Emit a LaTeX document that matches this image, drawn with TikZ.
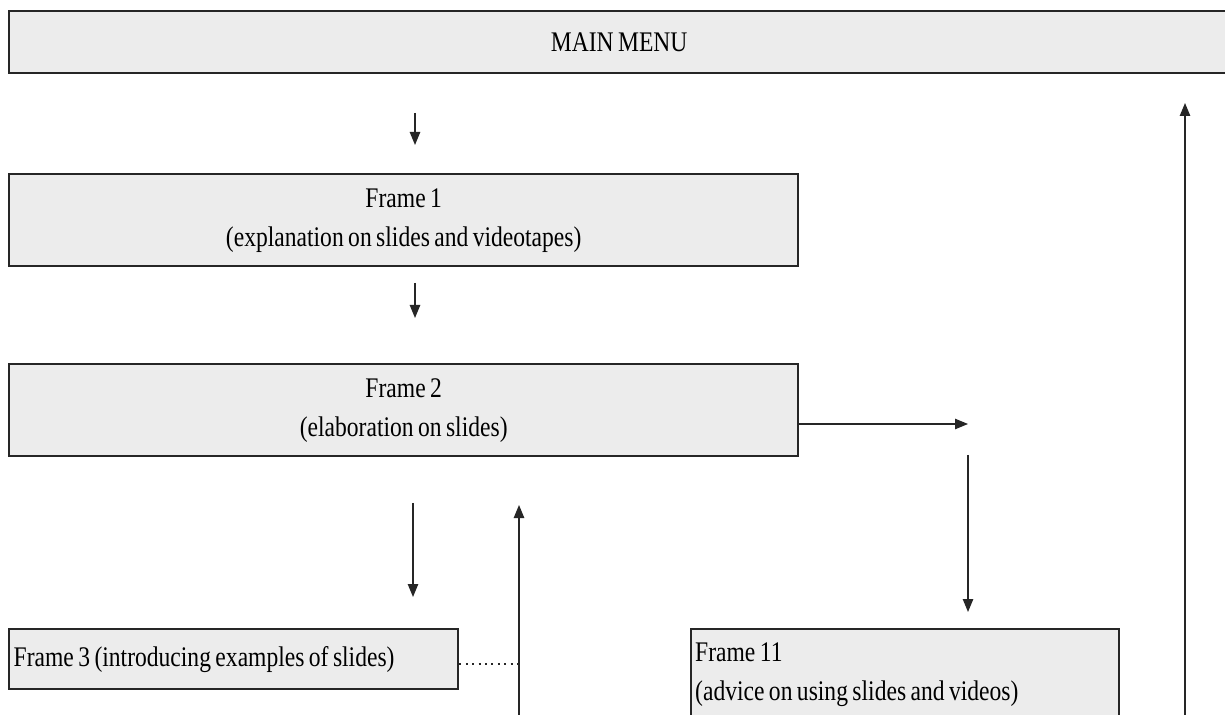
\documentclass[tikz,border=0pt]{standalone}
\usepackage{fontspec}
\setmainfont{Liberation Serif}[FakeStretch=0.83,WordSpace=0.75]
\usetikzlibrary{arrows.meta,calc}
\definecolor{boxfill}{gray}{0.925}
\definecolor{ink}{gray}{0.15}
\tikzset{
  frame/.style={draw=ink, fill=boxfill, line width=1.2pt, inner sep=2pt,
    font=\fontsize{14.2pt}{19.5pt}\selectfont},
  flow/.style={draw=ink, line width=0.65pt, -{Triangle[length=6.5pt,width=5.2pt]}},
  link/.style={draw=ink, line width=0.7pt, dash pattern=on 1pt off 2.2pt},
}
\begin{document}
\begin{tikzpicture}[x=0.5pt,y=-0.5pt]
\useasboundingbox (0,0) rectangle (1225,715);
\clip (0,0) rectangle (1225,715);
\fill[white] (0,0) rectangle (1225,715);
% boxes
\node[frame, anchor=north west, minimum width=610pt, minimum height=31pt] (menu) at (8,10) {MAIN MENU};
\node[frame, anchor=north west, minimum width=394.5pt, minimum height=46pt, align=center] (f1) at (8,173) {Frame 1\\(explanation on slides and videotapes)};
\node[frame, anchor=north west, minimum width=394.5pt, minimum height=46pt, align=center] (f2) at (8,363) {Frame 2\\(elaboration on slides)};
\node[frame, anchor=north west, minimum width=224.5pt, minimum height=30pt, text width=220pt, align=flush left] (f3) at (8,628) {Frame 3 (introducing examples of slides)};
\node[frame, anchor=north west, minimum width=214pt, minimum height=45pt, text width=210pt, align=flush left] (f11) at (690,628) {Frame 11\\(advice on using slides and videos)};
% free ends
\coordinate (a1) at (415,113); \coordinate (a2) at (415,145);
\coordinate (b1) at (415,283); \coordinate (b2) at (415,318);
\coordinate (c1) at (797,424); \coordinate (c2) at (968,424);
\coordinate (d1) at (968,455); \coordinate (d2) at (968,612);
\coordinate (e1) at (413,503); \coordinate (e2) at (413,597);
\coordinate (u1) at (519,722); \coordinate (u2) at (519,505);
\coordinate (dt) at (519,664);
\coordinate (r1) at (1185,722); \coordinate (r2) at (1185,103);
% connectors
\draw[flow] (a1) -- (a2);
\draw[flow] (b1) -- (b2);
\draw[flow] (f2.east |- c1) -- (c2);
\draw[flow] (d1) -- (d2);
\draw[flow] (e1) -- (e2);
\draw[flow] (u1) -- (u2);
\draw[link] (f3.east |- dt) -- (dt);
\draw[flow] (r1) -- (r2);
\end{tikzpicture}
\end{document}
